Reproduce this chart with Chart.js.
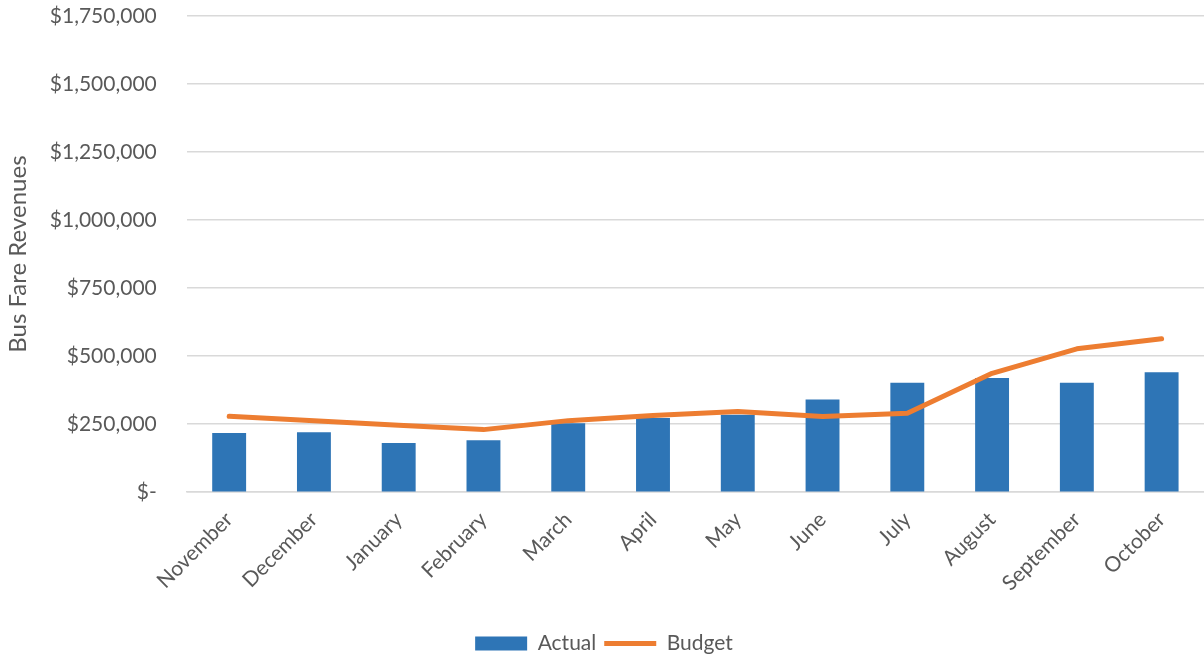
<!DOCTYPE html>
<html>
<head>
<meta charset="utf-8">
<script src="https://cdn.jsdelivr.net/npm/chart.js@4/dist/chart.umd.min.js"></script>
<style>
  html, body { margin: 0; padding: 0; background: #fff; overflow: hidden; }
  canvas { display: block; }
</style>
</head>
<body>
<canvas id="fare-chart" width="1204" height="659"></canvas>
<script>
const months = ['November', 'December', 'January', 'February', 'March', 'April', 'May', 'June', 'July', 'August', 'September', 'October'];
const actual = [218000, 220000, 181000, 191000, 253000, 273000, 285000, 341000, 402000, 420000, 402000, 441000];
const budget = [279000, 263000, 246000, 230000, 263000, 282000, 297000, 278000, 290000, 437000, 527000, 564000];
const yTicks = [0, 250000, 500000, 750000, 1000000, 1250000, 1500000, 1750000];

const textColor = '#595959';
const fontFamily = 'Lato, "Noto Sans", sans-serif';

// nudge the legend down a few pixels
const legendShift = {
    id: 'legendShift',
    afterLayout: (chart) => {
        chart.legend.top += 5;
        chart.legend.bottom += 5;
    }
};

const ctx = document.getElementById('fare-chart').getContext('2d');
const fareChart = new Chart(ctx, {
    type: 'bar',
    data: {
        labels: months,
        datasets: [{
            label: 'Actual',
            data: actual,
            backgroundColor: '#2E75B6',
            borderWidth: 0,
            categoryPercentage: 1,
            barPercentage: 0.4,
            pointStyle: 'rect',
            order: 2
        }, {
            label: 'Budget',
            type: 'line',
            data: budget,
            borderColor: '#ED7D31',
            backgroundColor: '#ED7D31',
            borderWidth: 5,
            borderCapStyle: 'round',
            borderJoinStyle: 'round',
            pointRadius: 0,
            pointStyle: 'line',
            tension: 0,
            order: 1
        }]
    },
    options: {
        responsive: false,
        animation: false,
        devicePixelRatio: 1,
        layout: { padding: { top: 0, right: 0, left: 4, bottom: 0 } },
        plugins: {
            legend: {
                position: 'bottom',
                labels: {
                    usePointStyle: true,
                    pointStyleWidth: 52,
                    boxHeight: 14,
                    padding: 8,
                    color: textColor,
                    font: { family: fontFamily, size: 21 },
                    sort: (a, b) => a.datasetIndex - b.datasetIndex
                }
            },
            tooltip: { enabled: false }
        },
        scales: {
            x: {
                grid: { display: false },
                border: { color: '#d9d9d9', width: 1.5 },
                afterFit: (scale) => { scale.height += 17; },
                ticks: {
                    color: textColor,
                    font: { family: fontFamily, size: 21 },
                    minRotation: 45,
                    maxRotation: 45,
                    padding: 7
                }
            },
            y: {
                min: 0,
                max: 1750000,
                afterBuildTicks: (axis) => {
                    axis.ticks = yTicks.map(v => ({ value: v }));
                },
                afterFit: (scale) => { scale.paddingTop = 16; },
                grid: { color: '#d9d9d9', lineWidth: 1.5, drawTicks: false },
                border: { display: false },
                ticks: {
                    color: textColor,
                    font: { family: fontFamily, size: 21 },
                    padding: 30,
                    callback: (v) => v === 0 ? '$-' : '$' + v.toLocaleString('en-US')
                },
                title: {
                    display: true,
                    text: 'Bus Fare Revenues',
                    color: textColor,
                    font: { family: fontFamily, size: 24 },
                    padding: { top: 0, bottom: -13 }
                }
            }
        }
    },
    plugins: [legendShift]
});
</script>
</body>
</html>
